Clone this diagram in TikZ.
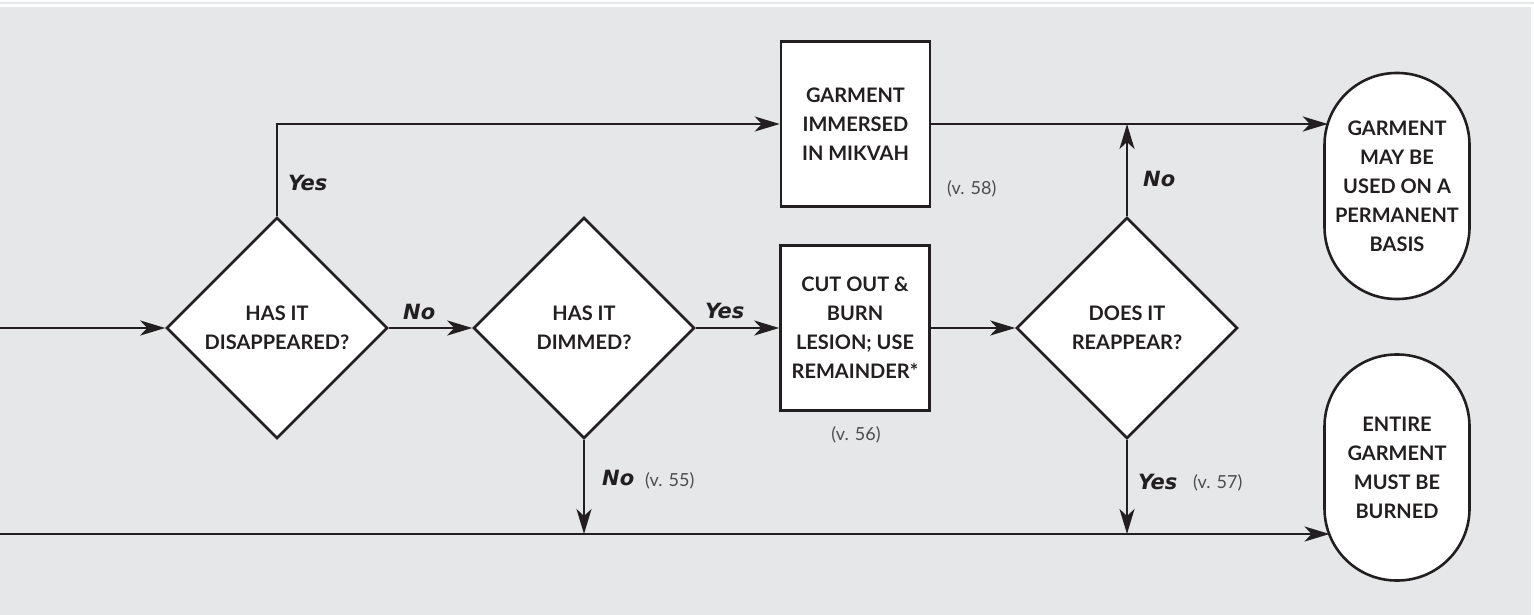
\documentclass[tikz,border=0pt]{standalone}
\usepackage{fontspec}
\usetikzlibrary{shapes.geometric,arrows.meta,calc}
\newfontfamily\labelfont{Lato}
\newfontfamily\answerfont{DejaVu Sans}
\definecolor{ink}{HTML}{231F20}
\definecolor{panel}{HTML}{E6E7E8}
\definecolor{versegray}{HTML}{4D4D4F}

\tikzset{
  boxtext/.style={font=\labelfont\bfseries\fontsize{20}{29}\selectfont, text=ink, align=center},
  question/.style={diamond, aspect=1, draw=ink, line width=2.6pt, fill=white,
    minimum width=221pt, minimum height=221pt, inner sep=0pt, boxtext},
  action/.style={rectangle, draw=ink, line width=2.6pt, fill=white,
    minimum width=149pt, minimum height=165pt, inner sep=0pt, boxtext},
  terminal/.style={rectangle, rounded corners=72pt, draw=ink, line width=2.6pt, fill=white,
    minimum width=145pt, minimum height=226pt, inner sep=0pt, boxtext},
  link/.style={draw=ink, line width=2.5pt, -{Stealth[length=25pt,width=15pt,inset=7pt]}},
  answer/.style={font=\answerfont\bfseries\itshape\fontsize{21}{24}\selectfont, text=ink, inner sep=0pt},
  verse/.style={font=\labelfont\fontsize{18}{20}\selectfont, text=versegray, inner sep=0pt}
}

\begin{document}
\begin{tikzpicture}[x=1pt,y=-1pt]
  \useasboundingbox (0,0) rectangle (1534,615);
  % page background with thin rule strip at the top
  \fill[white] (0,0) rectangle (1534,615);
  \fill[panel] (0,2) rectangle (1534,3.7);
  \fill[panel] (0,6.7) rectangle (1531,615);

  % decisions
  \node[question] (d1) at (277,328) {HAS IT\\DISAPPEARED?};
  \node[question] (d2) at (584,328) {HAS IT\\DIMMED?};
  \node[question] (d3) at (1127,328) {DOES IT\\REAPPEAR?};

  % actions
  \node[action] (box1) at (855.5,124) {GARMENT\\IMMERSED\\IN MIKVAH};
  \node[action] (box2) at (855,328) {CUT OUT \&\\BURN\\LESION; USE\\REMAINDER*};

  % outcomes
  \node[terminal] (t1) at (1397,186) {GARMENT\\MAY BE\\USED ON A\\PERMANENT\\BASIS};
  \node[terminal] (t2) at (1397,467.5) {ENTIRE\\GARMENT\\MUST BE\\BURNED};

  % entry points on the rounded outcome borders and the open line ends
  \coordinate (t1in) at (1327.8,124);
  \coordinate (t2in) at (1329.5,534);
  \coordinate (start) at (0,328);
  \coordinate (lowstart) at (0,534);

  % connectors
  \draw[link] (start) -- (d1.west);
  \draw[link] (d1.north) -- (d1.north |- box1.west) -- (box1.west);
  \draw[link] (d1.east) -- (d2.west);
  \draw[link] (d2.east) -- (box2.west);
  \draw[link] (box2.east) -- (d3.west);
  \draw[link] (box1.east) -- (t1in);
  \draw[link] (d3.north) -- (d3.north |- t1in);
  \draw[link] (lowstart) -- (t2in);
  \draw[link] (d2.south) -- (d2.south |- lowstart);
  \draw[link] (d3.south) -- (d3.south |- lowstart);

  % answer labels
  \node[answer, anchor=base west] (yes1) at (288,190.5) {Yes};
  \node[answer, anchor=base west] (no1) at (403,319.5) {No};
  \node[answer, anchor=base west] (yes2) at (705,318.5) {Yes};
  \node[answer, anchor=base west] (no3) at (1143,186.5) {No};
  \node[answer, anchor=base west] (no2) at (602,485.5) {No};
  \node[answer, anchor=base west] (yes3) at (1138,489.5) {Yes};

  % verse references
  \node[verse, anchor=base west] (v55) at (645,486) {(v. 55)};
  \node[verse, anchor=base] (v56) at (856,440) {(v. 56)};
  \node[verse, anchor=base west] (v57) at (1193,488) {(v. 57)};
  \node[verse, anchor=base west] (v58) at (947,194) {(v. 58)};
\end{tikzpicture}
\end{document}
